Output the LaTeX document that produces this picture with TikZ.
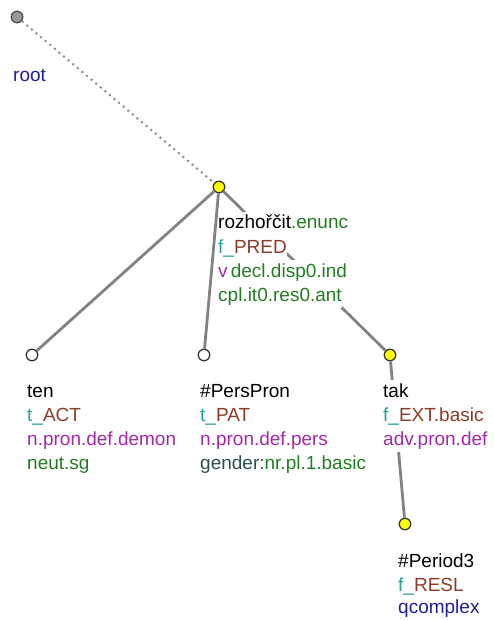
\documentclass[tikz,border=0pt]{standalone}
\usepackage{fontspec}
\setmainfont{Liberation Sans}
\usepackage{tikz}
\usetikzlibrary{positioning,calc}
\usepackage{xcolor}
\definecolor{tfa}{RGB}{32,160,160}
\definecolor{fnc}{RGB}{140,60,40}
\definecolor{sem}{RGB}{165,40,170}
\definecolor{gram}{RGB}{35,125,35}
\definecolor{gkey}{RGB}{47,79,79}
\definecolor{nty}{RGB}{30,30,160}
\definecolor{edgegray}{RGB}{130,130,130}
\definecolor{ndyellow}{RGB}{255,255,0}

\begin{document}
\begin{tikzpicture}[
    x=1pt, y=-1pt,
    nd/.style={circle, draw=black!80, line width=1.3pt, fill=white,
               minimum size=11.5pt, inner sep=0pt},
    ndy/.style={nd, fill=ndyellow},
    ndr/.style={nd, fill=black!40, draw=black!70},
    edg/.style={draw=edgegray, line width=2.8pt},
    lbl/.style={fill=white, inner xsep=0pt, inner ysep=0pt, anchor=base west,
                text height=17pt, text depth=7pt,
                font=\fontsize{19}{24}\selectfont}
  ]
  \path[use as bounding box] (0,0) rectangle (493,620);

  % --- nodes ---
  \node[ndr] (root) at (17,17) {};
  \node[ndy] (rozh) at (219,187) {};
  \node[nd]  (ten) at (32,355) {};
  \node[nd]  (pers) at (204,355) {};
  \node[ndy] (tak) at (390,355) {};
  \node[ndy] (period) at (405,524) {};

  % --- edges ---
  \draw[black!45, line width=2pt, dash pattern=on 2pt off 4pt] (root) -- (rozh);
  \draw[edg] (rozh) -- (ten);
  \draw[edg] (rozh) -- (pers);
  \draw[edg] (rozh) -- (tak);
  \draw[edg] (tak) -- (period);

  % --- labels ---
  \node[lbl] (rootB) at (13,82) {\textcolor{nty}{root}};

  \node[lbl] (rozhA) at (218,229) {rozhořčit\textcolor{gram}{.enunc}};
  \node[lbl] (rozhB) at (218,253) {\textcolor{tfa}{f\_}\textcolor{fnc}{PRED}};
  \node[lbl] (rozhC) at (218,277) {\textcolor{sem}{v}\,\textcolor{gram}{decl.disp0.ind}};
  \node[lbl] (rozhD) at (218,301) {\textcolor{gram}{cpl.it0.res0.ant}};

  \node[lbl] (tenA) at (27,397) {ten};
  \node[lbl] (tenB) at (27,421) {\textcolor{tfa}{t\_}\textcolor{fnc}{ACT}};
  \node[lbl] (tenC) at (27,445) {\textcolor{sem}{n.pron.def.demon}};
  \node[lbl] (tenD) at (27,469) {\textcolor{gram}{neut.sg}};

  \node[lbl] (persA) at (200,397) {\#PersPron};
  \node[lbl] (persB) at (200,421) {\textcolor{tfa}{t\_}\textcolor{fnc}{PAT}};
  \node[lbl] (persC) at (200,445) {\textcolor{sem}{n.pron.def.pers}};
  \node[lbl] (persD) at (200,469) {\textcolor{gkey}{gender:}\textcolor{gram}{nr.pl.1.basic}};

  \node[lbl] (takA) at (383,397) {tak};
  \node[lbl] (takB) at (383,421) {\textcolor{tfa}{f\_}\textcolor{fnc}{EXT.basic}};
  \node[lbl] (takC) at (383,445) {\textcolor{sem}{adv.pron.def}};

  \node[lbl] (periodA) at (398,567) {\#Period3};
  \node[lbl] (periodB) at (398,591) {\textcolor{tfa}{f\_}\textcolor{fnc}{RESL}};
  \node[lbl] (periodC) at (398,613) {\textcolor{nty}{qcomplex}};
\end{tikzpicture}
\end{document}
